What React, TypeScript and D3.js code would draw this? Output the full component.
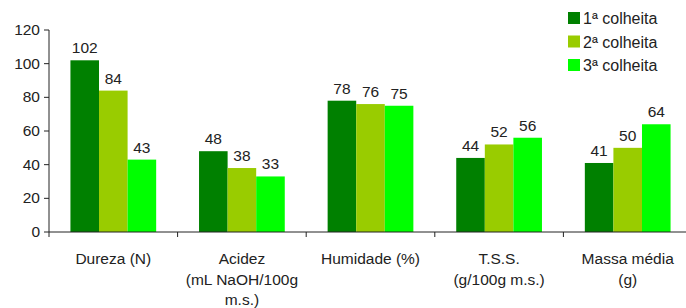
import React from "react";
import * as d3 from "d3";

// categorias (linhas do rótulo do eixo x)
const categories = ["Dureza", "Acidez", "Humidade", "TSS", "Massa"];
const categoryLabels = [
  ["Dureza (N)"],
  ["Acidez", "(mL NaOH/100g", "m.s.)"],
  ["Humidade (%)"],
  ["T.S.S.", "(g/100g m.s.)"],
  ["Massa média", "(g)"],
];
const seriesNames = ["1ª colheita", "2ª colheita", "3ª colheita"];
const colheita1 = [102, 48, 78, 44, 41];
const colheita2 = [84, 38, 76, 52, 50];
const colheita3 = [43, 33, 75, 56, 64];
const yTicks = [0, 20, 40, 60, 80, 100, 120];

const colors = ["#008000", "#99CC00", "#00FF00"];
const FONT = "'Liberation Sans', Arial, sans-serif";

export default function App() {
  const width = 686;
  const height = 308;
  const left = 49;
  const top = 30;
  const bottom = 232;

  const series = [colheita1, colheita2, colheita3];

  const xScale = d3.scaleBand().domain(categories).range([left, 692]).paddingInner(0).paddingOuter(0);
  const inner = d3
    .scaleBand()
    .domain(seriesNames)
    .range([0, xScale.bandwidth()])
    .paddingOuter(0.75)
    .paddingInner(0);
  const yScale = d3.scaleLinear().domain([0, 120]).range([bottom, top]);

  return (
    <svg
      width={width}
      height={height}
      style={{ position: "absolute", left: 0, top: 0, background: "#fff" }}
      fontFamily={FONT}
    >
      {/* barras */}
      {series.map((vals, si) =>
        categories.map((c, ci) => {
          const x = (xScale(c) as number) + (inner(seriesNames[si]) as number);
          const y = yScale(vals[ci]);
          return (
            <g key={`${si}-${ci}`}>
              <rect x={x} y={y} width={inner.bandwidth()} height={bottom - y} fill={colors[si]} />
              <text
                x={x + inner.bandwidth() / 2}
                y={y - 7}
                textAnchor="middle"
                fontSize={15.5}
                fill="#222"
              >
                {vals[ci]}
              </text>
            </g>
          );
        })
      )}

      {/* eixo y */}
      <line x1={left} x2={left} y1={top} y2={bottom} stroke="#222" />
      {yTicks.map((t) => (
        <g key={t}>
          <line x1={left - 5} x2={left} y1={yScale(t)} y2={yScale(t)} stroke="#222" />
          <text x={left - 9} y={yScale(t) + 5} textAnchor="end" fontSize={15.5} fill="#222">
            {t}
          </text>
        </g>
      ))}

      {/* eixo x */}
      <line x1={left} x2={width} y1={bottom} y2={bottom} stroke="#222" />
      {categories.map((c) => (
        <line
          key={c}
          x1={xScale(c) as number}
          x2={xScale(c) as number}
          y1={bottom}
          y2={bottom + 5}
          stroke="#222"
        />
      ))}
      {categories.map((c, ci) => (
        <text
          key={c}
          x={(xScale(c) as number) + xScale.bandwidth() / 2}
          y={264}
          textAnchor="middle"
          fontSize={15.5}
          fill="#222"
        >
          {categoryLabels[ci].map((l, li) => (
            <tspan key={li} x={(xScale(c) as number) + xScale.bandwidth() / 2} dy={li === 0 ? 0 : 20.5}>
              {l}
            </tspan>
          ))}
        </text>
      ))}

      {/* legenda */}
      <g transform="translate(568, 12)">
        {seriesNames.map((s, i) => (
          <g key={s} transform={`translate(0, ${i * 23.5})`}>
            <rect x={0} y={0} width={12} height={12} fill={colors[i]} />
            <text x={15} y={12} fontSize={16} fill="#222">
              {s}
            </text>
          </g>
        ))}
      </g>
    </svg>
  );
}
